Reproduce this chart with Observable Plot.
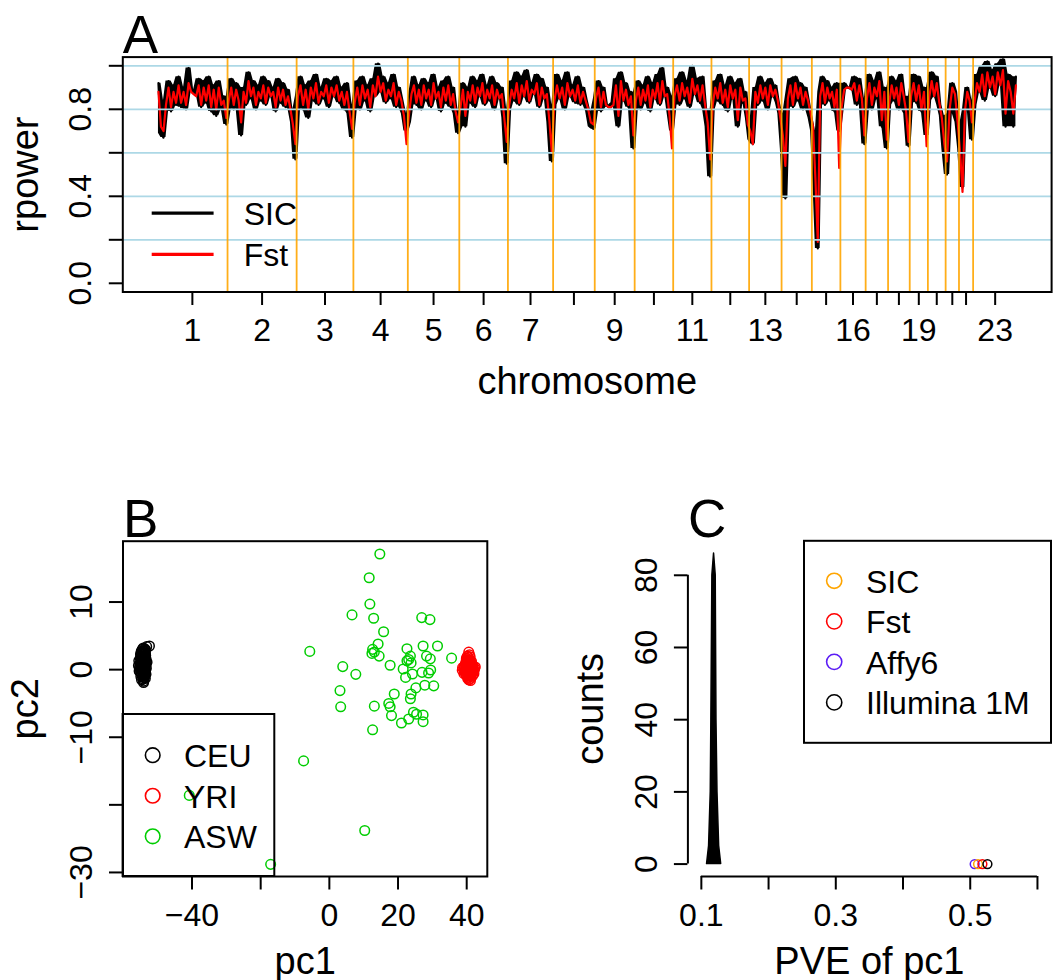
<!DOCTYPE html>
<html><head><meta charset="utf-8">
<script src="https://cdn.jsdelivr.net/npm/d3@7"></script>
<script src="https://cdn.jsdelivr.net/npm/@observablehq/plot@0.6"></script>
<style>
body{margin:0;background:#fff;}
#fig{position:relative;width:1057px;height:980px;overflow:hidden;background:#fff;}
</style></head><body><div id="fig"></div>
<script>
// ---------------- DATA ----------------
const chrNames = ["1","2","3","4","5","6","7","8","9","10","11","12","13","14","15","16","17","18","19","20","21","22","23"];
const chrLengths = [247.2,242.8,199.5,191.3,180.9,170.9,158.8,146.3,140.3,135.4,134.5,132.3,114.1,106.4,100.3,88.8,78.8,76.1,63.8,62.4,46.9,49.7,154.9];
const chrTickLabels = ["1","2","3","4","5","6","7","9","11","13","16","19","23"];
// rpower (x100) sampled along each chromosome
const sicByChr = [
 [92,69,67,84,93,79,91,82,95,81,90,80,99,89,88,87,94,81,93,83,95,79,91,77,93,80,86,73],
 [84,94,80,92,83,68,90,82,97,85,93,80,91,84,95,82,93,86,90,79,94,83,92,81,89,80,74,57],
 [86,95,80,91,76,93,84,96,82,90,85,94,81,93,86,95,83,90,80,92,78,67],
 [82,93,80,95,84,91,79,94,86,101,88,95,83,92,85,96,81,90,84,78,70],
 [74,88,95,82,91,80,94,84,92,81,96,85,90,79,93,83,95,81,90,78,69],
 [79,92,72,90,83,95,81,93,86,96,82,91,84,95,80,92,85,90,76,55],
 [80,93,84,97,82,95,86,98,83,92,87,96,81,94,85,90,74,56],
 [82,96,85,93,80,97,86,91,83,95,82,90,84,79,72,71],
 [85,93,79,90,82,81,81,83,94,72,97,84,92,81,88,62],
 [84,93,80,91,83,95,79,92,85,96,82,99,86,90,78,70],
 [86,94,82,97,85,93,81,100,87,94,83,95,80,72,49],
 [80,93,84,96,82,91,79,95,85,92,72,94,83,88,76],
 [66,64,90,82,95,84,92,80,94,86,91,83,78],
 [62,39,86,94,81,95,84,92,80,90,83,76],
 [70,45,16,88,95,82,93,84,90,79,92,70],
 [80,92,90,90,89,95,82,94,85,64],
 [84,96,80,93,85,97,72,90,62],
 [82,95,84,93,80,96,86,78,63],
 [86,96,83,95,79,90,68],
 [84,97,86,95,82,77,62],
 [50,78,92,88,74],
 [62,44,80,90,84,66],
 [82,96,88,100,84,102,90,98,86,101,92,103,72,96,88,72,95]
];
const fstByChr = [
 [88,72,70,82,90,81,88,83,91,83,88,82,92,88,87,86,91,82,90,84,91,81,89,80,90,82,84,76],
 [84,90,82,89,84,74,88,83,93,86,90,82,88,85,91,83,90,86,88,81,90,84,89,82,86,80,73,64],
 [86,91,82,89,80,90,85,92,83,88,86,91,83,90,86,91,84,88,82,88,79,71],
 [83,90,82,91,85,89,81,91,86,95,88,92,84,89,86,92,82,88,84,77,64],
 [78,87,91,83,89,82,91,85,89,82,92,85,88,81,90,84,91,82,87,79,74],
 [81,89,77,88,84,91,83,90,86,92,83,89,85,91,82,89,85,87,76,65],
 [82,89,85,92,83,91,86,93,84,89,87,92,82,90,85,87,75,60],
 [84,91,85,90,82,92,86,89,84,91,83,88,84,80,74,73],
 [85,90,81,88,82,81,81,82,91,77,93,84,89,82,86,68],
 [84,90,82,89,84,91,81,89,85,92,83,93,86,87,77,62],
 [86,91,84,92,86,90,83,94,87,91,84,91,82,74,57],
 [82,90,85,92,83,89,81,91,85,89,75,90,84,85,73],
 [70,64,88,83,91,85,90,82,91,86,89,84,76],
 [68,54,85,91,82,92,85,90,82,88,84,78],
 [72,48,19,86,92,83,90,85,88,81,89,53],
 [81,89,90,90,89,92,84,91,85,68],
 [85,92,82,90,86,93,75,88,66],
 [83,91,85,90,82,92,86,79,65],
 [86,92,84,91,80,88,63],
 [85,93,86,92,83,76,64],
 [56,80,90,87,74],
 [60,42,79,88,84,74],
 [83,92,88,96,86,97,90,95,87,97,91,98,78,93,88,78,91]
];
const rpowerTicks = [0,0.2,0.4,0.6,0.8,1.0];
const rpowerLabeled = [0,0.4,0.8];
const gridLevels = [0.2,0.4,0.6,0.8,1.0];
const seriesA = ["SIC","Fst"];
const seriesAColors = ["black","red"];

// Panel B
const ceuX = [-54.2,-53.8,-54.6,-53.5,-54.9,-53.2,-54.0,-55.3,-53.9,-54.4,-54.7,-53.6,-55.0,-54.1,-53.4,-55.5,-54.3,-53.7,-54.8,-53.3,-54.5,-53.9,-55.2,-54.0,-53.5,-55.6,-54.2,-53.8,-54.6,-53.1,-54.4,-55.1,-53.6,-54.9,-54.0,-53.4,-55.4,-54.7,-53.9,-54.3,-52.4,-54.8,-53.7,-55.0,-54.1,
  -54.3,-53.9,-54.6,-54.1,-53.7,-54.8,-54.4,-53.6,-54.2,-54.0,-54.5,-53.8,-55.0,-53.5,-54.7,-54.1,-53.9,-54.3,-54.9,-53.7,-54.4,-54.0,-53.6,-54.6,-54.2,-55.2,-53.4,-54.8,-53.9,-54.5];
const ceuY = [0.5,1.2,0.0,2.1,1.0,3.4,-0.8,0.3,2.8,1.8,-1.5,0.9,2.3,-1.9,1.6,1.3,2.6,-0.4,-0.6,0.2,3.0,-1.2,-0.3,1.5,-0.1,0.6,-1.4,3.1,2.0,1.1,0.8,1.7,2.5,-1.0,0.1,-0.7,-0.2,1.4,0.4,-0.2,3.5,2.7,1.9,0.8,-1.7,
  0.3,0.7,1.1,1.9,2.3,0.5,-0.4,1.3,2.2,-1.1,0.9,-0.9,0.0,2.9,-0.2,2.8,1.7,1.0,1.9,0.1,-1.0,2.5,-1.3,1.5,3.2,0.9,0.7,0.2,-0.6,2.4];
const yriX = [40.6,40.2,41.0,40.5,39.8,41.4,40.9,40.1,39.3,41.8,40.6,39.9,41.2,38.8,42.3,40.4,41.6,39.5,40.9,40.0,41.3,39.2,42.1,40.6,41.0,40.3,39.6,41.5,40.7,40.2,41.9,38.7,42.5,40.8,39.9,41.1,40.5,39.7,41.7,40.4,41.1,
  40.4,40.8,41.2,40.0,40.6,41.5,39.7,40.9,40.3,41.0,39.4,41.8,40.7,40.1,41.3,40.5,39.9,41.6,40.2,40.8,41.1,39.6,40.4,41.9,40.6,39.2,42.2,40.9,40.3,41.4];
const yriY = [2.6,2.0,1.9,1.4,1.2,1.2,0.8,0.6,0.5,0.6,0.2,0.0,0.1,0.3,0.2,-0.3,-0.4,-0.3,-0.7,-0.9,-1.0,-0.6,-0.6,-1.5,0.5,1.0,0.8,0.9,-0.2,-0.5,0.0,-0.1,0.4,1.5,1.7,-0.3,0.6,-0.7,-0.9,-1.1,-1.6,
  0.4,0.9,0.3,0.2,1.1,0.4,0.1,-0.1,-0.6,1.3,-0.1,0.3,0.6,1.5,-0.5,-0.8,0.7,0.7,0.3,2.2,-1.3,-0.3,1.8,-0.3,-0.9,0.1,-0.1,0.0,-1.3,0.6];
const aswX = [14.7,11.6,11.8,6.6,12.9,26.9,29.3,15.8,14.2,-5.7,12.6,13.1,12.4,14.5,22.6,27.3,31.5,28.3,29.4,35.6,23.6,23.1,23.8,22.6,3.9,17.7,21.5,27.0,29.5,28.9,7.7,24.2,22.2,27.8,30.4,25.2,3.1,18.9,23.8,23.6,3.3,13.1,17.3,17.7,18.1,24.5,25.4,27.3,23.1,21.0,27.3,12.6,-7.5,-40.8,10.3,-17.1];
const aswY = [17.1,13.6,9.7,8.1,7.6,7.7,7.4,5.6,3.8,2.7,3.0,2.6,2.4,2.0,3.1,3.5,3.5,2.0,1.6,1.7,2.0,1.5,1.0,1.3,0.45,0.65,0.1,-0.4,-0.05,-0.5,-0.7,-0.65,-1.15,-2.3,-2.4,-2.7,-3.1,-3.6,-3.6,-4.3,-5.5,-5.4,-5.0,-5.5,-6.8,-6.3,-6.6,-6.7,-7.3,-7.9,-7.7,-8.9,-13.5,-18.6,-23.8,-28.8];
const popNames = ["CEU","YRI","ASW"];
const popColors = ["black","red","#00CD00"];
const pc1Ticks = [-40,-20,0,20,40];
const pc1Labeled = [-40,0,20,40];
const pc2Ticks = [-30,-20,-10,0,10];
const pc2Labeled = [-30,-10,0,10];

// Panel C
const spikeCounts = [0,5,20,40,80,86];
const spikeLeft = [0.1085,0.1115,0.1140,0.1149,0.1164,0.1189];
const spikeRight = [0.1295,0.1265,0.1240,0.1225,0.1214,0.1189];
const methodNames = ["SIC","Fst","Affy6","Illumina 1M"];
const methodColors = ["#FFA500","#FF0000","#5B1CF5","black"];
const methodPVE = [0.5116,0.5181,0.5066,0.5256];
const methodDrawOrder = [2,0,1,3];
const pveTicks = [0.1,0.2,0.3,0.4,0.5,0.6];
const pveLabeled = [0.1,0.3,0.5];
const countTicks = [0,20,40,60,80];

// ---------------- BUILD ----------------
const FONT = '"Liberation Sans", Arial, Helvetica, sans-serif';
const TICK_FS = 32, TITLE_FS = 38, LETTER_FS = 53;
const fmt = v => String(v).replace("-", "\u2212");

const chrStart = []; let acc = 0;
chrLengths.forEach(l => { chrStart.push(acc); acc += l; });
const genomeLen = acc;
const chrCenter = chrLengths.map((l, i) => chrStart[i] + l / 2);
const boundaries = chrStart.slice(1);
function rowsOf(byChr) {
  const rows = [];
  byChr.forEach((vals, c) => vals.forEach((v, i) =>
    rows.push({pos: chrStart[c] + (i + 0.5) / vals.length * chrLengths[c], v: v / 100})));
  return rows;
}
// local spread of the noisy trace (neighbour min / max) to draw it as a dense band
function bandOf(rows) {
  return rows.map((r, i) => {
    const nb = [rows[Math.max(0, i - 1)].v, r.v, rows[Math.min(rows.length - 1, i + 1)].v];
    return {pos: r.pos, lo: d3.min(nb), hi: d3.max(nb)};
  });
}
const sicRows = rowsOf(sicByChr), fstRows = rowsOf(fstByChr);
const sicBand = bandOf(sicRows);

const styleOf = () => ({fontFamily: FONT, fontSize: TICK_FS + "px", background: "transparent", overflow: "visible", color: "black"});

function commonText(xTitle, yTitle, letter, xTitleDy) {
  return [
    Plot.text([yTitle], {text: d => d, frameAnchor: "left", dx: -85, rotate: -90, lineAnchor: "bottom", textAnchor: "middle", fontSize: TITLE_FS}),
    Plot.text([xTitle], {text: d => d, frameAnchor: "bottom", dy: xTitleDy, lineAnchor: "bottom", textAnchor: "middle", fontSize: TITLE_FS}),
    Plot.text([letter], {text: d => d, frameAnchor: "top-left", dy: -4.5, lineAnchor: "bottom", textAnchor: "start", fontSize: LETTER_FS})
  ];
}
function yTickLabels(vals, f) {
  return Plot.text(vals, {y: d => d, text: f, frameAnchor: "left", dx: -31.4, rotate: -90, lineAnchor: "bottom", textAnchor: "middle", fontSize: TICK_FS});
}

// Panel A
const plotA = Plot.plot({
  width: 1057, height: 420,
  marginTop: 56.6, marginLeft: 122.3, marginRight: 1057 - 1051.1, marginBottom: 420 - 291.5,
  style: styleOf(),
  x: {domain: [-0.04 * genomeLen, 1.04 * genomeLen], axis: null},
  y: {domain: [-0.04, 1.04], axis: null},
  marks: [
    Plot.areaY(sicBand, {x: "pos", y1: "lo", y2: "hi", fill: seriesAColors[0]}),
    Plot.line(sicRows, {x: "pos", y: "v", stroke: seriesAColors[0], strokeWidth: 2.2}),
    Plot.line(fstRows, {x: "pos", y: "v", stroke: seriesAColors[1], strokeWidth: 2.2}),
    Plot.ruleY(gridLevels, {stroke: "#ADD8E6", strokeWidth: 1.8}),
    Plot.ruleX(boundaries, {stroke: "orange", strokeWidth: 1.8, strokeOpacity: 0.9}),
    Plot.frame({stroke: "black", strokeWidth: 2}),
    Plot.axisX(chrCenter, {tickSize: 13.5, tickFormat: () => "", strokeWidth: 2, label: null}),
    Plot.axisY(rpowerTicks, {tickSize: 13.5, tickFormat: () => "", strokeWidth: 2, label: null}),
    Plot.text(chrTickLabels, {x: d => chrCenter[chrNames.indexOf(d)], text: d => d, frameAnchor: "bottom", dy: 49, lineAnchor: "bottom", textAnchor: "middle", fontSize: TICK_FS}),
    yTickLabels(rpowerLabeled, d => d.toFixed(1)),
    ...commonText("chromosome", "rpower", "A", 102)
  ]
});

// Panel B
const pops = [[ceuX, ceuY], [yriX, yriY], [aswX, aswY]].map(([xs, ys], k) => xs.map((x, i) => ({x, y: ys[i], pop: popNames[k]})));
const plotB = Plot.plot({
  width: 530, height: 510,
  marginTop: 70.7, marginLeft: 122.5, marginRight: 530 - 486.8, marginBottom: 104,
  style: styleOf(),
  x: {domain: [-60.1, 46.0], axis: null},
  y: {domain: [-30.6, 19.0], axis: null},
  marks: [
    ...pops.map((rows, k) => Plot.dot(rows, {x: "x", y: "y", r: 4.8, stroke: popColors[k], strokeWidth: 1.5, fill: "none"})),
    Plot.frame({stroke: "black", strokeWidth: 2}),
    Plot.axisX(pc1Ticks, {tickSize: 13.5, tickFormat: () => "", strokeWidth: 2, label: null}),
    Plot.axisY(pc2Ticks, {tickSize: 13.5, tickFormat: () => "", strokeWidth: 2, label: null}),
    Plot.text(pc1Labeled, {x: d => d, text: fmt, frameAnchor: "bottom", dy: 49.5, lineAnchor: "bottom", textAnchor: "middle", fontSize: TICK_FS}),
    yTickLabels(pc2Labeled, fmt),
    ...commonText("pc1", "pc2", "B", 97)
  ]
});

// Panel C
const spikeRows = spikeCounts.map((c, i) => ({c, l: spikeLeft[i], r: spikeRight[i]}));
const pveDomain = [0.08, 0.62], countDomain = [-3.44, 89.44];
const plotC = Plot.plot({
  width: 527, height: 510,
  marginTop: 70.7, marginLeft: 687.4 - 530, marginRight: 527 - (1050.4 - 530), marginBottom: 104,
  style: styleOf(),
  x: {domain: pveDomain, axis: null},
  y: {domain: countDomain, axis: null},
  marks: [
    Plot.areaX(spikeRows, {y: "c", x1: "l", x2: "r", fill: "black", stroke: "black", strokeWidth: 1.5}),
    ...methodDrawOrder.map(k => Plot.dot([methodPVE[k]], {x: d => d, y: () => 0, r: 4.4, stroke: methodColors[k], strokeWidth: 1.5, fill: "none"})),
    Plot.ruleX([pveDomain[0]], {y1: countTicks[0], y2: countTicks[countTicks.length - 1], strokeWidth: 2}),
    Plot.ruleY([countDomain[0]], {x1: pveTicks[0], x2: pveTicks[pveTicks.length - 1], strokeWidth: 2}),
    Plot.axisX(pveTicks, {tickSize: 13.5, tickFormat: () => "", strokeWidth: 2, label: null}),
    Plot.axisY(countTicks, {tickSize: 13.5, tickFormat: () => "", strokeWidth: 2, label: null}),
    Plot.text(pveLabeled, {x: d => d, text: d => d.toFixed(1), frameAnchor: "bottom", dy: 49, lineAnchor: "bottom", textAnchor: "middle", fontSize: TICK_FS}),
    yTickLabels(countTicks, d => String(d)),
    ...commonText("PVE of pc1", "counts", "C", 97)
  ]
});

const fig = document.getElementById("fig");
[[plotA, 0, 0], [plotB, 0, 470], [plotC, 530, 470]].forEach(([svg, l, t]) => {
  svg.style.position = "absolute"; svg.style.left = l + "px"; svg.style.top = t + "px";
  fig.appendChild(svg);
});

// Legends overlay
const ov = d3.create("svg").attr("width", 1057).attr("height", 980)
  .style("position", "absolute").style("left", "0").style("top", "0")
  .style("font-family", FONT).style("pointer-events", "none");
// Legend A (no box)
seriesA.forEach((s, i) => {
  const y = 213.1 + i * 41.3;
  ov.append("line").attr("x1", 151.7).attr("x2", 213.6).attr("y1", y).attr("y2", y)
    .attr("stroke", seriesAColors[i]).attr("stroke-width", 3.3);
  ov.append("text").attr("x", 243.7).attr("y", y + 11.8).attr("font-size", TICK_FS).text(s);
});
// Legend B
ov.append("rect").attr("x", 122.6).attr("y", 714).attr("width", 151.7).attr("height", 162)
  .attr("fill", "none").attr("stroke", "black").attr("stroke-width", 2);
popNames.forEach((s, i) => {
  const y = 755.2 + i * 40.55;
  ov.append("circle").attr("cx", 152.7).attr("cy", y).attr("r", 7.3).attr("fill", "none")
    .attr("stroke", popColors[i]).attr("stroke-width", 1.6);
  ov.append("text").attr("x", 184).attr("y", y + 11.8).attr("font-size", TICK_FS).text(s);
});
// Legend C
ov.append("rect").attr("x", 804).attr("y", 540.8).attr("width", 247).attr("height", 202)
  .attr("fill", "none").attr("stroke", "black").attr("stroke-width", 2);
methodNames.forEach((s, i) => {
  const y = 580.8 + i * 40.53;
  ov.append("circle").attr("cx", 834.2).attr("cy", y).attr("r", 7.6).attr("fill", "none")
    .attr("stroke", methodColors[i]).attr("stroke-width", 1.6);
  ov.append("text").attr("x", 866).attr("y", y + 11.8).attr("font-size", TICK_FS).text(s);
});
fig.appendChild(ov.node());
</script></body></html>
